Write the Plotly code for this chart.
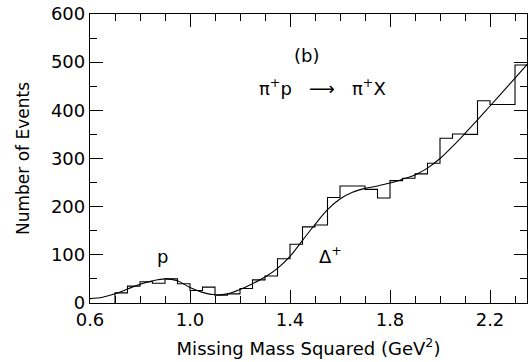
import plotly.graph_objects as go

# Histogram: bin lower edges (GeV^2), bin width 0.05, counts per bin
bin_lo = [0.70, 0.75, 0.80, 0.85, 0.90, 0.95, 1.00, 1.05, 1.10, 1.15, 1.20,
          1.25, 1.30, 1.35, 1.40, 1.45, 1.50, 1.55, 1.60, 1.65, 1.70, 1.75,
          1.80, 1.85, 1.90, 1.95, 2.00, 2.05, 2.10, 2.15, 2.20, 2.25, 2.30]
counts = [21, 35, 44, 41, 50, 40, 26, 33, 16, 19, 30,
          48, 56, 92, 122, 158, 162, 219, 243, 243, 236, 218,
          254, 259, 268, 290, 342, 351, 350, 420, 412, 412, 494]
bin_width = 0.05

# Fitted smooth curve
fit_x = [0.60, 0.65, 0.70, 0.75, 0.80, 0.85, 0.90, 0.95, 1.00, 1.05, 1.10,
         1.15, 1.20, 1.25, 1.30, 1.35, 1.40, 1.45, 1.50, 1.55, 1.60, 1.65,
         1.70, 1.75, 1.80, 1.85, 1.90, 1.95, 2.00, 2.05, 2.10, 2.15, 2.20,
         2.25, 2.30, 2.35]
fit_y = [9, 12, 19, 29, 39, 46, 50, 46, 32, 22, 17,
         19, 28, 40, 54, 72, 97, 130, 163, 194, 216, 230,
         238, 243, 249, 257, 266, 280, 300, 325, 352, 380, 409,
         438, 467, 496]

x_ticks = [0.6, 1.0, 1.4, 1.8, 2.2]
x_ticklabels = ["0.6", "1.0", "1.4", "1.8", "2.2"]
y_ticks = [0, 100, 200, 300, 400, 500, 600]

# step outline built from the bins
step_x = [bin_lo[0]] + bin_lo + [bin_lo[-1] + bin_width]
step_y = [0] + counts + [counts[-1]]

FONT = "DejaVu Sans, Verdana, sans-serif"

fig = go.Figure()
fig.add_trace(go.Scatter(x=step_x, y=step_y, mode="lines", line_shape="hv",
                         line=dict(color="black", width=1.1),
                         showlegend=False, hoverinfo="skip"))
fig.add_trace(go.Scatter(x=fit_x, y=fit_y, mode="lines", line_shape="spline",
                         line=dict(color="black", width=1.1),
                         showlegend=False, hoverinfo="skip"))

axis_common = dict(showline=True, linecolor="black", linewidth=1.3, mirror="allticks",
                   ticks="inside", tickcolor="black", showgrid=False, zeroline=False,
                   tickfont=dict(family=FONT, size=18, color="black"))

fig.update_xaxes(range=[0.6, 2.348], tickvals=x_ticks, ticktext=x_ticklabels,
                 ticklen=13, tickwidth=1.2,
                 minor=dict(dtick=0.1, tick0=0.6, ticks="inside", ticklen=7,
                            tickcolor="black", tickwidth=1.2, showgrid=False),
                 title=dict(text="Missing Mass Squared (GeV<sup>2</sup>)",
                            font=dict(family=FONT, size=18, color="black"), standoff=13),
                 **axis_common)
fig.update_yaxes(range=[0, 600], tickvals=y_ticks, ticklen=13, tickwidth=1.2,
                 minor=dict(dtick=50, tick0=0, ticks="inside", ticklen=7,
                            tickcolor="black", tickwidth=1.2, showgrid=False),
                 title=dict(text="Number of Events",
                            font=dict(family=FONT, size=17, color="black"), standoff=16),
                 **axis_common)

ann_font = dict(family=FONT, size=18, color="black")
fig.add_annotation(x=1.464, y=514, text="(b)", showarrow=False, font=ann_font)
fig.add_annotation(x=1.53, y=448, text="π<sup>+</sup>p   ⟶   π<sup>+</sup>X",
                   showarrow=False, font=ann_font)
fig.add_annotation(x=0.888, y=96, text="p", showarrow=False, font=ann_font)
fig.add_annotation(x=1.56, y=100, text="Δ<sup>+</sup>", showarrow=False, font=ann_font)

fig.update_layout(width=529, height=362, margin=dict(l=90, r=2, t=14, b=59),
                  plot_bgcolor="white", paper_bgcolor="white")

fig.write_html("out.html")
